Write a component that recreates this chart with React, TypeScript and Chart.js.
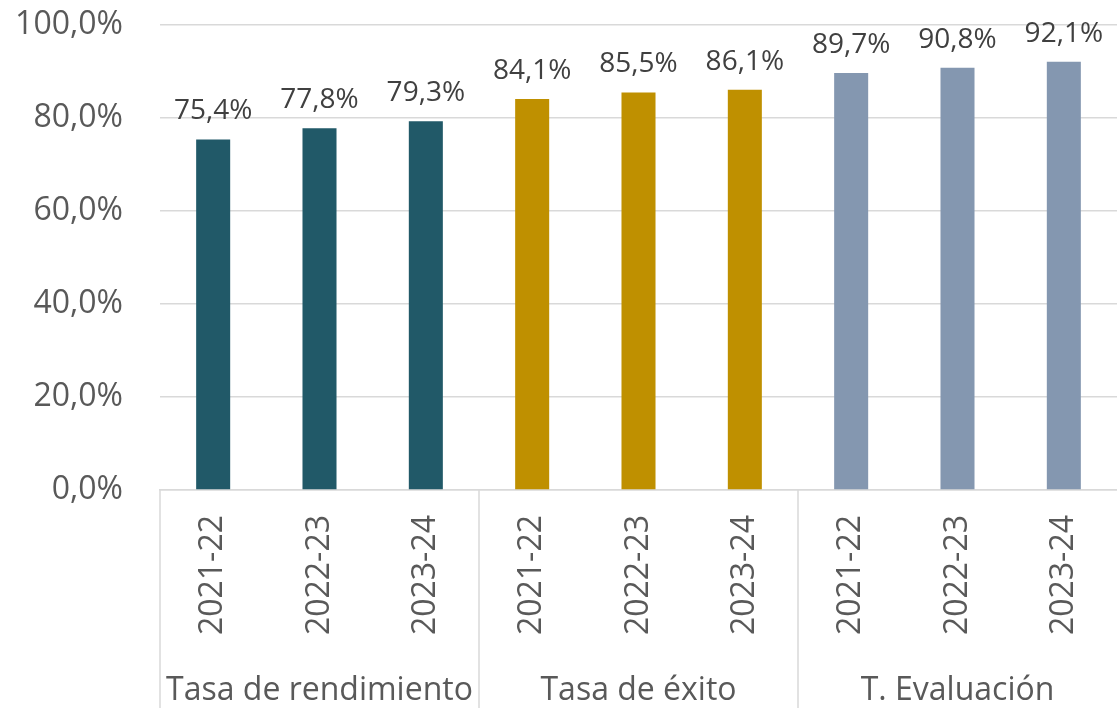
import React, { useEffect, useRef } from "react";
import { Chart, registerables } from "chart.js";

Chart.register(...registerables);

const years = ["2021-22", "2022-23", "2023-24"];
const groups = ["Tasa de rendimiento", "Tasa de éxito", "T. Evaluación"];
const rendimiento = [75.4, 77.8, 79.3];
const exito = [84.1, 85.5, 86.1];
const evaluacion = [89.7, 90.8, 92.1];
const groupColors = ["#215968", "#BF9000", "#8497B0"];
const yTicks = [0, 20, 40, 60, 80, 100];

const FONT = "'Open Sans', 'DejaVu Sans', sans-serif";
const fmt = (v: number, d: number) => v.toFixed(d).replace(".", ",") + "%";

export default function App() {
  const ref = useRef<HTMLCanvasElement | null>(null);

  useEffect(() => {
    document.body.style.margin = "0";
    const canvas = ref.current;
    if (!canvas) return;

    const seriesByGroup = [rendimiento, exito, evaluacion];
    const labels: string[] = [];
    const values: number[] = [];
    const colors: string[] = [];
    seriesByGroup.forEach((series, g) => {
      series.forEach((v, i) => {
        labels.push(years[i]);
        values.push(v);
        colors.push(groupColors[g]);
      });
    });

    const overlay = {
      id: "overlay",
      afterDatasetsDraw(chart: any) {
        const ctx = chart.ctx;
        const meta = chart.getDatasetMeta(0);
        ctx.save();
        ctx.font = `28px ${FONT}`;
        ctx.fillStyle = "#404040";
        ctx.textAlign = "center";
        ctx.textBaseline = "alphabetic";
        meta.data.forEach((bar: any, i: number) => {
          ctx.fillText(fmt(values[i], 1), bar.x, bar.y - 20);
        });
        ctx.restore();
      },
      afterDraw(chart: any) {
        const ctx = chart.ctx;
        const x = chart.scales.x;
        const area = chart.chartArea;
        const half = (x.getPixelForValue(1) - x.getPixelForValue(0)) / 2;
        const per = years.length;
        ctx.save();
        ctx.strokeStyle = "#d9d9d9";
        ctx.lineWidth = 1.5;
        for (let g = 0; g < groups.length; g++) {
          const xp = x.getPixelForValue(g * per) - half;
          ctx.beginPath();
          ctx.moveTo(xp, area.bottom);
          ctx.lineTo(xp, chart.height);
          ctx.stroke();
        }
        ctx.font = `32px ${FONT}`;
        ctx.fillStyle = "#595959";
        ctx.textAlign = "center";
        ctx.textBaseline = "alphabetic";
        groups.forEach((name, g) => {
          const cx = x.getPixelForValue(g * per + (per - 1) / 2);
          ctx.fillText(name, cx, 700);
        });
        ctx.restore();
      },
    };

    const chart = new Chart(canvas, {
      type: "bar",
      data: {
        labels,
        datasets: [
          {
            data: values,
            backgroundColor: colors,
            barPercentage: 0.32,
            categoryPercentage: 1,
          },
        ],
      },
      options: {
        animation: false,
        responsive: false,
        maintainAspectRatio: false,
        layout: { padding: { top: 0, right: 0, left: 0, bottom: 0 } },
        plugins: {
          legend: { display: false },
          tooltip: { enabled: false },
        },
        scales: {
          y: {
            min: 0,
            max: 100,
            afterFit: (s: any) => {
              s.width = 160;
              s.paddingTop = 25;
            },
            afterBuildTicks: (s: any) => {
              s.ticks = yTicks.map((v) => ({ value: v }));
            },
            border: { display: false },
            grid: { color: "#d9d9d9", lineWidth: 1.5, drawTicks: false },
            ticks: {
              padding: 37,
              color: "#595959",
              font: { family: FONT, size: 32 },
              callback: (v: any) => fmt(Number(v), 1),
            },
          },
          x: {
            afterFit: (s: any) => {
              s.height = 218;
              s.paddingLeft = 0;
              s.paddingRight = 0;
            },
            border: { display: true, color: "#d9d9d9", width: 1.5 },
            grid: { display: false, drawTicks: false },
            ticks: {
              autoSkip: false,
              minRotation: 90,
              maxRotation: 90,
              padding: 25,
              color: "#595959",
              font: { family: FONT, size: 32 },
            },
          },
        },
      },
      plugins: [overlay],
    });

    return () => chart.destroy();
  }, []);

  return (
    <div style={{ width: 1117, height: 708, background: "#fff" }}>
      <canvas ref={ref} width={1117} height={708} style={{ display: "block" }} />
    </div>
  );
}
